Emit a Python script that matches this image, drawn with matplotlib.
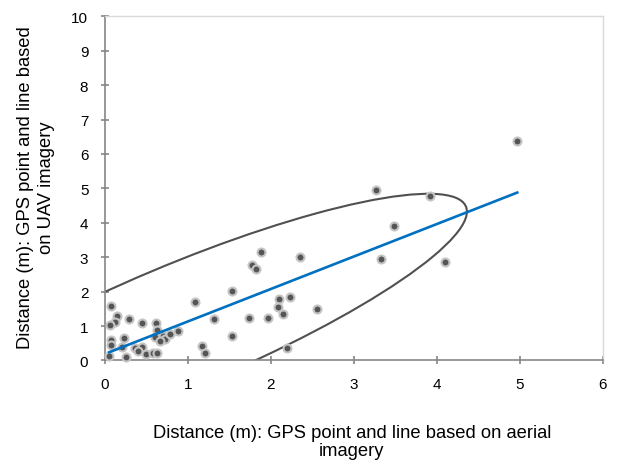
import numpy as np
import matplotlib
matplotlib.use("Agg")
import matplotlib.pyplot as plt
from matplotlib.patches import Ellipse

plt.rcParams['font.family'] = ['Liberation Sans', 'DejaVu Sans']

# distance GPS point <-> line, aerial imagery (x) vs UAV imagery (y)
aerial = [4.97, 3.27, 3.92, 3.48, 3.33, 4.10, 1.88, 1.77, 1.82, 2.35, 1.53, 1.09,
          2.10, 2.23, 2.08, 2.15, 2.55, 1.74, 1.96, 1.31, 1.53, 1.17, 1.21, 2.20,
          0.07, 0.14, 0.12, 0.06, 0.29, 0.44, 0.61, 0.63, 0.88, 0.70, 0.72, 0.78,
          0.60, 0.66, 0.23, 0.07, 0.07, 0.21, 0.36, 0.45, 0.40, 0.50, 0.58, 0.63,
          0.05, 0.25]
uav = [6.37, 4.95, 4.79, 3.92, 2.94, 2.85, 3.15, 2.78, 2.66, 3.01, 2.01, 1.70,
       1.79, 1.84, 1.55, 1.36, 1.50, 1.23, 1.24, 1.20, 0.71, 0.43, 0.21, 0.35,
       1.58, 1.29, 1.13, 1.02, 1.20, 1.09, 1.09, 0.88, 0.85, 0.72, 0.62, 0.77,
       0.68, 0.57, 0.65, 0.60, 0.46, 0.40, 0.37, 0.39, 0.28, 0.19, 0.21, 0.23,
       0.12, 0.09]

x_ticks = list(range(0, 7))
y_ticks = list(range(0, 11))

# hand drawn ellipse round the main cloud (data units)
ell_center = (0.882, 0.971)
ell_major = 5.032
ell_minor = 1.339
ell_angle = 48.511

fig = plt.figure(figsize=(6.27, 4.64), dpi=100)
ax = fig.add_axes([0.1675, 0.221, 0.7937, 0.7417])

ax.scatter(aerial, uav, s=33, c="#555555", edgecolors="#c4c4c4", linewidths=1.5,
           zorder=3, clip_on=False)

# linear trendline like excel
k, b = np.polyfit(aerial, uav, 1)
xs = np.array([min(aerial), max(aerial)])
ax.plot(xs, k * xs + b, color="#0070c0", lw=1.9, zorder=4)

ax.add_patch(Ellipse(ell_center, 2 * ell_major, 2 * ell_minor, angle=ell_angle,
                     fill=False, edgecolor="#505050", lw=1.5, zorder=2))

ax.set_xlim(0, 6)
ax.set_ylim(0, 10)
ax.set_xticks(x_ticks)
ax.set_yticks(y_ticks)
for s in ['left', 'bottom']:
    ax.spines[s].set_color('#868686')
    ax.spines[s].set_linewidth(1.2)
for s in ['top', 'right']:
    ax.spines[s].set_color('#d9d9d9')
    ax.spines[s].set_linewidth(1.0)
ax.tick_params(direction='inout', length=6, width=1.2, color='#868686', labelsize=11, pad=9)

fig.text(0.561, 0.047, "Distance (m): GPS point and line based on aerial\nimagery",
         ha='center', va='center', multialignment='center', fontsize=13.2, linespacing=1.05)
fig.text(0.0574, 0.595, "Distance (m): GPS point and line based\non UAV imagery",
         ha='center', va='center', rotation=90, multialignment='center',
         fontsize=13.2, linespacing=1.3)

fig.savefig("out.png")
